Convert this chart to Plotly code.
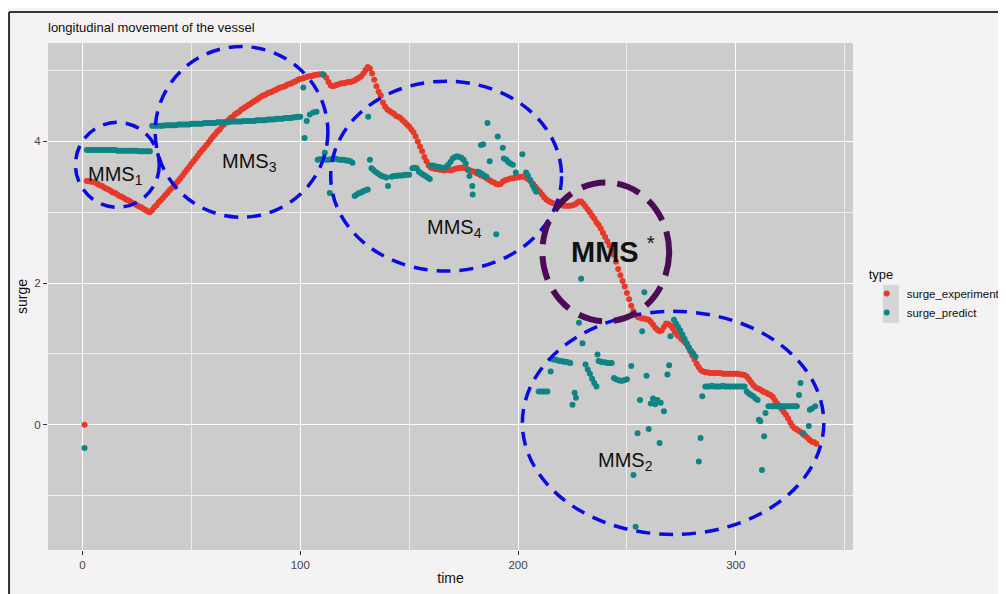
import plotly.graph_objects as go

# ---------------- data ----------------
experiment_time = list(range(1, 338))
experiment_surge = [
    0.00, 3.44, 3.44, 3.43, 3.43, 3.42, 3.40, 3.38, 3.37, 3.35,
    3.33, 3.32, 3.30, 3.28, 3.27, 3.25, 3.23, 3.22, 3.20, 3.18,
    3.17, 3.15, 3.13, 3.12, 3.10, 3.08, 3.07, 3.05, 3.03, 3.01,
    3.00, 3.03, 3.07, 3.10, 3.14, 3.17, 3.20, 3.24, 3.27, 3.31,
    3.34, 3.37, 3.41, 3.44, 3.48, 3.52, 3.56, 3.60, 3.64, 3.68,
    3.72, 3.76, 3.80, 3.84, 3.88, 3.91, 3.95, 3.99, 4.03, 4.07,
    4.10, 4.14, 4.17, 4.21, 4.24, 4.27, 4.30, 4.33, 4.35, 4.38,
    4.40, 4.42, 4.45, 4.47, 4.49, 4.51, 4.53, 4.55, 4.57, 4.59,
    4.61, 4.63, 4.65, 4.66, 4.68, 4.69, 4.70, 4.72, 4.73, 4.75,
    4.76, 4.77, 4.78, 4.80, 4.81, 4.82, 4.84, 4.85, 4.87, 4.88,
    4.89, 4.90, 4.91, 4.92, 4.92, 4.93, 4.94, 4.94, 4.95, 4.95,
    4.93, 4.90, 4.84, 4.79, 4.78, 4.79, 4.80, 4.81, 4.82, 4.82,
    4.83, 4.84, 4.84, 4.85, 4.86, 4.88, 4.90, 4.92, 4.96, 5.01,
    5.05, 5.03, 4.96, 4.87, 4.78, 4.70, 4.65, 4.55, 4.49, 4.45,
    4.43, 4.41, 4.39, 4.36, 4.35, 4.33, 4.30, 4.27, 4.24, 4.21,
    4.17, 4.13, 4.07, 4.00, 3.93, 3.86, 3.78, 3.72, 3.66, 3.63,
    3.62, 3.61, 3.61, 3.60, 3.60, 3.59, 3.60, 3.60, 3.59, 3.60,
    3.61, 3.62, 3.62, 3.63, 3.63, 3.62, 3.60, 3.59, 3.58, 3.57,
    3.55, 3.54, 3.52, 3.51, 3.49, 3.47, 3.45, 3.43, 3.42, 3.40,
    3.39, 3.40, 3.43, 3.45, 3.46, 3.47, 3.48, 3.48, 3.49, 3.49,
    3.50, 3.50, 3.50, 3.48, 3.46, 3.43, 3.40, 3.36, 3.32, 3.29,
    3.25, 3.21, 3.18, 3.16, 3.14, 3.13, 3.12, 3.11, 3.10, 3.10,
    3.09, 3.09, 3.09, 3.09, 3.10, 3.11, 3.13, 3.15, 3.15, 3.12,
    3.08, 3.04, 3.00, 2.95, 2.91, 2.86, 2.82, 2.77, 2.71, 2.65,
    2.59, 2.53, 2.46, 2.40, 2.30, 2.20, 2.11, 2.03, 1.95, 1.86,
    1.77, 1.68, 1.60, 1.55, 1.52, 1.51, 1.50, 1.50, 1.49, 1.48,
    1.45, 1.41, 1.37, 1.34, 1.32, 1.33, 1.38, 1.43, 1.42, 1.40,
    1.36, 1.31, 1.27, 1.24, 1.21, 1.18, 1.15, 1.10, 1.04, 0.98,
    0.92, 0.86, 0.81, 0.77, 0.75, 0.74, 0.74, 0.73, 0.73, 0.73,
    0.73, 0.73, 0.73, 0.72, 0.72, 0.72, 0.72, 0.72, 0.72, 0.72,
    0.72, 0.71, 0.71, 0.70, 0.68, 0.64, 0.60, 0.56, 0.53, 0.51,
    0.50, 0.48, 0.46, 0.45, 0.43, 0.42, 0.39, 0.34, 0.30, 0.26,
    0.22, 0.18, 0.14, 0.09, 0.03, -0.02, -0.05, -0.07, -0.09, -0.11,
    -0.14, -0.16, -0.19, -0.22, -0.24, -0.25, -0.27,
]

predict_time = [
    1,
    2, 3, 4, 5, 6, 7, 8, 9, 10, 11, 12, 13, 14, 15, 16, 17, 18, 19, 20,
    21, 22, 23, 24, 25, 26, 27, 28, 29, 30, 31,
    32, 33, 34, 35, 36, 37, 38, 39, 40, 41, 42, 43, 44, 45, 46, 47, 48, 49, 50,
    51, 52, 53, 54, 55, 56, 57, 58, 59, 60, 61, 62, 63, 64, 65, 66, 67, 68, 69, 70,
    71, 72, 73, 74, 75, 76, 77, 78, 79, 80, 81, 82, 83, 84, 85, 86, 87, 88, 89, 90,
    91, 92, 93, 94, 95, 96, 97, 98, 99, 100,
    101.4, 102, 103, 104.4, 106, 107.5, 110.5, 111.3,
    108, 109, 110, 111, 112, 113, 114, 115, 116, 117, 118, 119, 120, 121, 122, 123, 124,
    113.6,
    125, 126, 127, 128, 129, 130, 131,
    131.2,
    132, 132.7, 133.5, 134.5, 135.5, 136.5, 137.5, 138.5, 139.5,
    140.3,
    142, 143, 144, 145, 146, 147, 148, 149, 150, 151.5, 152.5, 153.5, 154.5, 155.5,
    156.5, 157.5, 158.5, 159.5,
    160, 161, 162, 163, 164, 165, 166, 167, 168, 169, 170, 171, 172, 173, 174, 175,
    176, 177, 177.7, 179, 179.2,
    181.5, 182.5, 183.5, 184.5, 185.5,
    184, 183, 186, 187, 190, 190.7, 193, 193.5, 194.6, 195.5, 196.5, 197.6, 199,
    202, 203.7, 204.5, 205.5, 206.7, 207.5, 208.3,
    209.5, 210.5, 211.5, 212.5, 213.5, 215, 216, 217, 218, 219, 220, 221, 222, 223, 224,
    225, 226, 226.6, 228, 229, 229.6, 231, 232, 233, 234, 235, 236, 236.5,
    237, 238, 239, 240, 241, 242, 243, 244, 245, 246, 247, 248, 249, 250,
    252, 253, 254, 254.9, 256, 257, 258, 259, 260, 261, 262, 263, 264, 265, 265.5,
    267, 268.6, 269.4, 270,
    271.6, 272.5, 273.5, 274.5, 275.5, 276.5, 277.5, 278.5, 279.5, 280.5, 281.5,
    283, 283.8, 284.6,
    286, 287, 288, 289, 290, 291, 292, 293, 294, 295, 296, 297, 298, 299, 300,
    301, 302, 303, 304,
    305, 306, 307, 308, 309, 310, 310.6, 311.2, 312, 313, 313.6,
    315, 316, 317, 318, 319, 320, 321, 322, 323, 324, 325, 326, 327, 328,
    329, 329.7, 331, 333.5, 334, 335, 336.5,
]

predict_surge = [
    -0.33,
    3.88, 3.88, 3.88, 3.88, 3.88, 3.88, 3.88, 3.88, 3.88, 3.88, 3.88, 3.88, 3.88, 3.88,
    3.87, 3.87, 3.87, 3.87, 3.87, 3.87, 3.87, 3.87, 3.87, 3.87,
    3.86, 3.86, 3.86, 3.86, 3.86, 3.86,
    4.22, 4.22, 4.22, 4.22, 4.22, 4.22, 4.23, 4.23, 4.23, 4.23, 4.23, 4.23,
    4.24, 4.24, 4.24, 4.24, 4.24, 4.24, 4.25, 4.25, 4.25, 4.25, 4.25, 4.25,
    4.26, 4.26, 4.26, 4.26, 4.26, 4.26, 4.27, 4.27, 4.27, 4.27, 4.27, 4.27,
    4.28, 4.28, 4.28, 4.28, 4.28, 4.28, 4.29, 4.29, 4.29, 4.29, 4.29, 4.29,
    4.30, 4.30, 4.30, 4.30, 4.30, 4.31, 4.31, 4.31, 4.31, 4.32, 4.32, 4.32, 4.32,
    4.33, 4.33, 4.33, 4.33, 4.34, 4.34, 4.35, 4.35,
    4.76, 4.05, 4.29, 4.38, 4.41, 4.42, 4.95, 3.84,
    3.74, 3.75, 3.75, 3.75, 3.74, 3.74, 3.75, 3.75, 3.76, 3.75, 3.74, 3.74, 3.74,
    3.73, 3.73, 3.72, 3.70,
    3.27,
    3.23, 3.25, 3.27, 3.28, 3.30, 3.31, 3.32,
    4.35,
    3.74, 3.62, 3.60, 3.57, 3.55, 3.53, 3.51, 3.50, 3.49,
    3.37,
    3.50, 3.51, 3.51, 3.52, 3.52, 3.52, 3.53, 3.53, 3.53, 3.62, 3.63, 3.62, 3.57, 3.55,
    3.53, 3.51, 3.49, 3.47,
    3.66, 3.66, 3.65, 3.64, 3.64, 3.63, 3.63, 3.64, 3.67, 3.71, 3.76, 3.78, 3.79, 3.78,
    3.77, 3.74, 3.69, 3.60, 3.51, 3.37, 3.25,
    3.57, 3.56, 3.54, 3.52, 3.50,
    3.96, 3.95, 4.26, 3.72, 2.69, 4.07, 3.91, 3.76, 3.74, 3.71, 3.69, 3.67, 3.56,
    3.82, 3.56, 3.52, 3.46, 3.38, 3.33, 3.29,
    0.47, 0.47, 0.47, 0.47, 0.47, 0.75, 0.92, 0.92, 0.91, 0.90, 0.90, 0.89, 0.89, 0.88, 0.87,
    0.28, 0.45, 0.38, 1.44, 2.06, 1.15, 0.85, 0.78, 0.72, 0.65, 0.59, 0.54, 0.99,
    0.90, 0.89, 0.88, 0.88, 0.87, 0.87, 0.87, 0.66, 0.64, 0.63, 0.62, 0.62, 0.63, 0.64,
    0.83, -0.71, -1.44, -0.12, 0.35, 1.32, 1.87, 0.69, -0.06, 0.30, 0.37, 0.29, 0.35, -0.26, 0.31,
    0.19, 0.71, 0.84, 1.25,
    1.48, 1.43, 1.38, 1.33, 1.27, 1.21, 1.15, 1.09, 1.04, 1.00, 0.96,
    -0.52, -0.19, 0.40,
    0.54, 0.54, 0.54, 0.55, 0.54, 0.54, 0.54, 0.54, 0.55, 0.54, 0.54, 0.54, 0.54, 0.54, 0.54,
    0.54, 0.54, 0.54, 0.54,
    0.47, 0.44, 0.42, 0.40, 0.37, 0.35, 0.07, 0.05, -0.64, -0.165, 0.165,
    0.26, 0.26, 0.26, 0.26, 0.26, 0.26, 0.26, 0.26, 0.26, 0.26, 0.26, 0.26, 0.26, 0.26,
    0.42, 0.59, -0.12, -0.02, 0.21, 0.23, 0.26,
]

series_names = ["surge_experiment", "surge_predict"]
series_colors = ["#e6392a", "#0f8484"]

# annotation regions: (label, text x, text y, x0, x1, y0, y1)
regions = [
    ("MMS<sub>1</sub>", 15.3, 3.52, -3.2, 35.3, 3.07, 4.27),
    ("MMS<sub>3</sub>", 76.5, 3.70, 33.4, 112.7, 2.93, 5.34),
    ("MMS<sub>4</sub>", 171.0, 2.77, 114.0, 220.0, 2.17, 4.85),
    ("MMS<sub>2</sub>", 249.5, -0.52, 202.0, 340.4, -1.55, 1.60),
]
star_region = ("<b>MMS</b> <sup>*</sup>", 243.5, 2.46, 211.2, 269.4, 1.46, 3.42)

FONT = "Liberation Sans, Arial, sans-serif"

# the page body adds an 8px offset; the figure is sized so that the
# plotting panel lands at 48..853 x 43..550 in the 1006x594 window
FIG_W, FIG_H = 998, 586

fig = go.Figure()
fig.add_trace(go.Scatter(
    x=experiment_time, y=experiment_surge, mode="markers", name=series_names[0],
    marker=dict(color=series_colors[0], size=6), legendgroup="a"))
fig.add_trace(go.Scatter(
    x=predict_time, y=predict_surge, mode="markers", name=series_names[1],
    marker=dict(color=series_colors[1], size=6), legendgroup="b"))

shapes = []
annotations = []
for lab, tx, ty, x0, x1, y0, y1 in regions:
    shapes.append(dict(type="circle", xref="x", yref="y", x0=x0, x1=x1, y0=y0, y1=y1,
                       line=dict(color="#0a0ae6", width=3.5, dash="14px,9px"),
                       layer="above"))
    annotations.append(dict(x=tx, y=ty, xref="x", yref="y", text=lab, showarrow=False,
                            font=dict(family=FONT, size=20, color="#111111")))
lab, tx, ty, x0, x1, y0, y1 = star_region
shapes.append(dict(type="circle", xref="x", yref="y", x0=x0, x1=x1, y0=y0, y1=y1,
                   line=dict(color="#4a0c55", width=6, dash="24px,12px"), layer="above"))
annotations.append(dict(x=tx, y=ty, xref="x", yref="y", text=lab, showarrow=False,
                        font=dict(family=FONT, size=29, color="#111111")))

# legend key background
shapes.append(dict(type="rect", xref="paper", yref="paper", x0=1.037, x1=1.057,
                   y0=0.448, y1=0.523, fillcolor="#d6d6d6", line=dict(width=0),
                   layer="below"))
# outer frame of the screenshot
shapes.append(dict(type="line", xref="paper", yref="paper", x0=-0.0484, x1=1.2,
                   y0=1.0611, y1=1.0611, line=dict(color="#333333", width=2)))
shapes.append(dict(type="line", xref="paper", yref="paper", x0=-0.0484, x1=-0.0484,
                   y0=1.0611, y1=-0.1, line=dict(color="#333333", width=2)))

axis_common = dict(showline=False, zeroline=False, gridcolor="#ffffff", gridwidth=1.3,
                   ticks="outside", ticklen=4, tickcolor="#333333", tickwidth=1.2,
                   automargin=False,
                   tickfont=dict(family=FONT, size=11.5, color="#444444"),
                   title_font=dict(family=FONT, size=14, color="#111111"))

fig.update_layout(
    width=FIG_W, height=FIG_H,
    margin=dict(l=40, r=153, t=35, b=44, autoexpand=False),
    paper_bgcolor="#f4f2f2", plot_bgcolor="#cccccc",
    title=dict(text="longitudinal movement of the vessel", x=40 / FIG_W, xanchor="left",
               y=1 - 19 / FIG_H, yanchor="middle",
               font=dict(family=FONT, size=13, color="#111111")),
    xaxis=dict(range=[-15.8, 353.8], tickvals=[0, 100, 200, 300],
               minor=dict(tickvals=[50, 150, 250, 350], showgrid=True, gridcolor="#ededed",
                          gridwidth=0.7, ticks=""),
               title=dict(text="time", standoff=3), **axis_common),
    yaxis=dict(range=[-1.77, 5.39], tickvals=[0, 2, 4],
               minor=dict(tickvals=[-1, 1, 3, 5], showgrid=True, gridcolor="#ededed",
                          gridwidth=0.7, ticks=""),
               title=dict(text="surge", standoff=3), **axis_common),
    legend=dict(x=1.017, y=0.568, xanchor="left", yanchor="top", bgcolor="rgba(0,0,0,0)",
                title=dict(text="type", font=dict(family=FONT, size=13, color="#111111")),
                font=dict(family=FONT, size=11.5, color="#111111"), tracegroupgap=0),
    shapes=shapes, annotations=annotations,
)

fig.write_html("out.html")
